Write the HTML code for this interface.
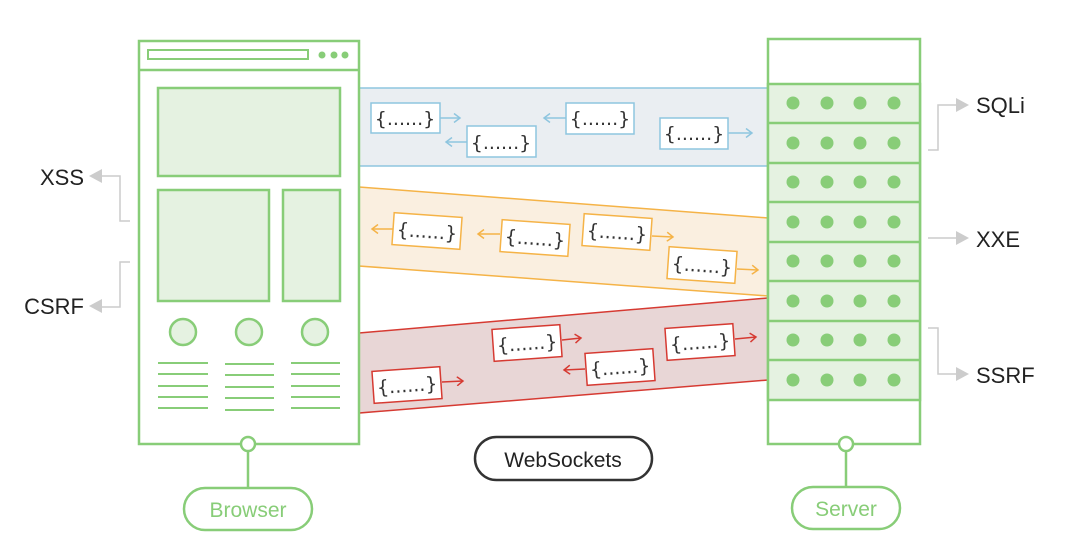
<!DOCTYPE html>
<html><head><meta charset="utf-8"><style>
html,body{margin:0;padding:0;background:#fff;width:1080px;height:558px;overflow:hidden}
svg{display:block}
text{font-family:"Liberation Sans",sans-serif}
.br{font-size:19px;fill:#333;text-anchor:middle;font-family:"DejaVu Sans",sans-serif}
</style></head><body>
<svg width="1080" height="558" viewBox="0 0 1080 558" xmlns="http://www.w3.org/2000/svg">
<defs>
<marker id="ab" markerWidth="10" markerHeight="10" refX="8" refY="5" orient="auto" markerUnits="userSpaceOnUse"><path d="M2,0.5 L8,5 L2,9.5" fill="none" stroke="#8ec5df" stroke-width="1.5"/></marker>
<marker id="ao" markerWidth="10" markerHeight="10" refX="8" refY="5" orient="auto" markerUnits="userSpaceOnUse"><path d="M2,0.5 L8,5 L2,9.5" fill="none" stroke="#f5b347" stroke-width="1.5"/></marker>
<marker id="ar" markerWidth="10" markerHeight="10" refX="8" refY="5" orient="auto" markerUnits="userSpaceOnUse"><path d="M2,0.5 L8,5 L2,9.5" fill="none" stroke="#d63a32" stroke-width="1.5"/></marker>
<g id="dr"><circle cx="793" cy="0" r="6.5"/><circle cx="827" cy="0" r="6.5"/><circle cx="860" cy="0" r="6.5"/><circle cx="894" cy="0" r="6.5"/></g>
</defs>

<!-- bands -->
<rect x="359" y="88" width="409" height="78" fill="#eaeef2" stroke="#8ec5df" stroke-width="1.5"/>
<polygon points="359,187 768,218 768,296 359,266" fill="#faefe0" stroke="#f5b347" stroke-width="1.5"/>
<polygon points="359,333 768,298 768,380 359,413" fill="#e8d6d6" stroke="#d63a32" stroke-width="1.5"/>

<!-- blue messages -->
<g stroke="#8ec5df" stroke-width="1.5">
<line x1="440" y1="118" x2="460" y2="118" marker-end="url(#ab)"/>
<line x1="467" y1="142" x2="446" y2="142" marker-end="url(#ab)"/>
<line x1="566" y1="118" x2="544" y2="118" marker-end="url(#ab)"/>
<line x1="728" y1="133" x2="752" y2="133" marker-end="url(#ab)"/>
<rect x="371" y="103" width="69" height="30" fill="#fff"/>
<rect x="467" y="126" width="69" height="31" fill="#fff"/>
<rect x="566" y="103" width="68" height="31" fill="#fff"/>
<rect x="660" y="118" width="68" height="31" fill="#fff"/>
</g>
<text x="405" y="125" class="br">{......}</text>
<text x="501" y="149" class="br">{......}</text>
<text x="600" y="125" class="br">{......}</text>
<text x="694" y="140" class="br">{......}</text>

<!-- orange messages -->
<g stroke="#f5b347" stroke-width="1.5">
<line x1="393" y1="229" x2="372" y2="229" marker-end="url(#ao)"/>
<line x1="500" y1="234" x2="478" y2="234" marker-end="url(#ao)"/>
<line x1="652" y1="236" x2="673" y2="237" marker-end="url(#ao)"/>
<line x1="737" y1="269" x2="758" y2="270" marker-end="url(#ao)"/>
</g>
<g transform="translate(427,231) rotate(4)"><rect x="-34" y="-16" width="68" height="32" fill="#fff" stroke="#f5b347" stroke-width="1.5"/><text class="br" y="7">{......}</text></g>
<g transform="translate(535,238) rotate(4)"><rect x="-34" y="-16" width="68" height="32" fill="#fff" stroke="#f5b347" stroke-width="1.5"/><text class="br" y="7">{......}</text></g>
<g transform="translate(617,232) rotate(4)"><rect x="-34" y="-16" width="68" height="32" fill="#fff" stroke="#f5b347" stroke-width="1.5"/><text class="br" y="7">{......}</text></g>
<g transform="translate(702,265) rotate(4)"><rect x="-34" y="-16" width="68" height="32" fill="#fff" stroke="#f5b347" stroke-width="1.5"/><text class="br" y="7">{......}</text></g>

<!-- red messages -->
<g stroke="#d63a32" stroke-width="1.5">
<line x1="442" y1="382" x2="463" y2="381" marker-end="url(#ar)"/>
<line x1="562" y1="340" x2="581" y2="338" marker-end="url(#ar)"/>
<line x1="585" y1="369" x2="564" y2="370" marker-end="url(#ar)"/>
<line x1="735" y1="339" x2="756" y2="337" marker-end="url(#ar)"/>
</g>
<g transform="translate(407,385) rotate(-4)"><rect x="-34" y="-16" width="68" height="32" fill="#fff" stroke="#d63a32" stroke-width="1.5"/><text class="br" y="7">{......}</text></g>
<g transform="translate(527,343) rotate(-4)"><rect x="-34" y="-16" width="68" height="32" fill="#fff" stroke="#d63a32" stroke-width="1.5"/><text class="br" y="7">{......}</text></g>
<g transform="translate(620,367) rotate(-4)"><rect x="-34" y="-16" width="68" height="32" fill="#fff" stroke="#d63a32" stroke-width="1.5"/><text class="br" y="7">{......}</text></g>
<g transform="translate(700,342) rotate(-4)"><rect x="-34" y="-16" width="68" height="32" fill="#fff" stroke="#d63a32" stroke-width="1.5"/><text class="br" y="7">{......}</text></g>

<!-- browser -->
<g stroke="#88cd78" stroke-width="2.5" fill="none">
<rect x="139" y="41" width="220" height="403" fill="#fff"/>
<line x1="139" y1="70" x2="359" y2="70"/>
<rect x="148" y="50" width="160" height="9" stroke-width="2"/>
<rect x="158" y="88" width="182" height="88" fill="#e5f2e1"/>
<rect x="158" y="190" width="111" height="111" fill="#e5f2e1"/>
<rect x="283" y="190" width="57" height="111" fill="#e5f2e1"/>
<circle cx="183" cy="332" r="13" fill="#e5f2e1"/>
<circle cx="249" cy="332" r="13" fill="#e5f2e1"/>
<circle cx="315" cy="332" r="13" fill="#e5f2e1"/>
<path d="M158 363H208M158 374H208M158 386H208M158 397H208M158 408H208" stroke-width="2"/>
<path d="M225 364H274M225 375H274M225 387H274M225 398H274M225 410H274" stroke-width="2"/>
<path d="M291 363H340M291 374H340M291 386H340M291 397H340M291 408H340" stroke-width="2"/>
<line x1="248" y1="451" x2="248" y2="488"/>
<circle cx="248" cy="444" r="7" fill="#fff"/>
<rect x="184" y="488" width="128" height="42" rx="21" fill="#fff"/>
</g>
<g fill="#88cd78"><circle cx="322" cy="55" r="3.5"/><circle cx="334" cy="55" r="3.5"/><circle cx="345" cy="55" r="3.5"/></g>
<text x="248" y="517" font-size="21" fill="#88cd78" text-anchor="middle">Browser</text>

<!-- server -->
<g stroke="#88cd78" stroke-width="2.5">
<rect x="768" y="39" width="152" height="405" fill="#fff"/>
<rect x="768" y="84" width="152" height="316" fill="#e5f2e1"/>
<path d="M768 123H920M768 163H920M768 202H920M768 242H920M768 281H920M768 321H920M768 360H920" fill="none"/>
<line x1="846" y1="451" x2="846" y2="487"/>
<circle cx="846" cy="444" r="7" fill="#fff"/>
<rect x="792" y="487" width="108" height="42" rx="21" fill="#fff"/>
</g>
<g fill="#88cd78">
<use href="#dr" y="103"/><use href="#dr" y="143"/><use href="#dr" y="182"/><use href="#dr" y="222"/>
<use href="#dr" y="261"/><use href="#dr" y="301"/><use href="#dr" y="340"/><use href="#dr" y="380"/>
</g>
<text x="846" y="516" font-size="21" fill="#88cd78" text-anchor="middle">Server</text>

<!-- side labels -->
<g stroke="#ccc" stroke-width="1.5" fill="none">
<path d="M130 221H120V176H102"/>
<path d="M130 262H120V307H102"/>
<path d="M928 150H938V105H956"/>
<path d="M928 238H956"/>
<path d="M928 328H938V374H956"/>
</g>
<g fill="#ccc">
<polygon points="89,176 102,169 102,183"/>
<polygon points="89,306 102,299 102,313"/>
<polygon points="969,105 956,98 956,112"/>
<polygon points="969,238 956,231 956,245"/>
<polygon points="969,374 956,367 956,381"/>
</g>
<g font-size="22" fill="#222">
<text x="84" y="185" text-anchor="end">XSS</text>
<text x="84" y="314" text-anchor="end">CSRF</text>
<text x="976" y="113">SQLi</text>
<text x="976" y="247">XXE</text>
<text x="976" y="383">SSRF</text>
</g>

<!-- websockets -->
<rect x="475" y="437" width="177" height="43" rx="21.5" fill="#fff" stroke="#333" stroke-width="2.5"/>
<text x="563" y="467" font-size="21" fill="#222" text-anchor="middle">WebSockets</text>
</svg>
</body></html>
